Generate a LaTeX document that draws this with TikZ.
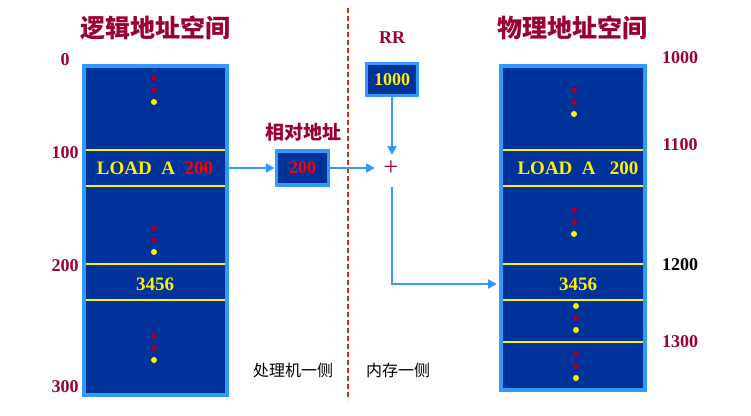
\documentclass[tikz,border=0pt]{standalone}
\usepackage{fontspec}
\setmainfont{Liberation Serif}
\newfontfamily\cjk{Noto Sans CJK SC}
\usetikzlibrary{arrows.meta,positioning}
\definecolor{memblue}{HTML}{003399}
\definecolor{edgeblue}{HTML}{3399FF}
\definecolor{darkred}{HTML}{990033}
\definecolor{dashred}{HTML}{CC3300}
\tikzset{
  cell/.style={draw=edgeblue,line width=3.5pt,fill=memblue},
  sep/.style={draw=yellow,line width=2.5pt},
  addr/.style={font=\fontsize{18}{18}\selectfont\bfseries,text=darkred},
  title/.style={font=\cjk\fontsize{25}{25}\selectfont\bfseries,text=darkred},
  word/.style={font=\fontsize{19}{19}\selectfont\bfseries,text=yellow},
  side/.style={font=\cjk\fontsize{16}{16}\selectfont},
  link/.style={draw=edgeblue,line width=2.5pt,-{Triangle[length=9pt,width=9pt]}},
  rdot/.style={circle,fill=darkred,inner sep=0pt,minimum size=6pt},
  ydot/.style={circle,fill=yellow,inner sep=0pt,minimum size=6pt}
}
\newcommand{\dotcol}[3]{%
  \node[rdot] at (#1,#2) {};
  \node[rdot] at (#1,#2+12) {};
  \node[#3] at (#1,#2+24) {};}
\begin{document}
\begin{tikzpicture}[x=1pt,y=-1pt]
  \useasboundingbox (0,0) rectangle (751,415);
  % logical space
  \node[title] (ltitle) at (155,28) {逻辑地址空间};
  \draw[cell] (84,66) rectangle (227,395);
  \foreach \y in {150,186,264,300} \draw[sep] (86,\y) -- (225,\y);
  \node[word] (load) at (155,168) {LOAD\ \ A\ \ \textcolor{red}{200}};
  \node[word] (lval) at (155,284) {3456};
  \dotcol{154}{78}{ydot}
  \dotcol{154}{228}{ydot}
  \dotcol{154}{336}{ydot}
  \foreach \y/\t in {60/0,153/100,266/200,387/300}
    \node[addr] at (65,\y) {\t};
  % relative address
  \node[font=\cjk\fontsize{19}{19}\selectfont\bfseries,text=darkred] (rtitle) at (303,132) {相对地址};
  \node[cell,minimum width=52pt,minimum height=34pt,font=\fontsize{18}{18}\selectfont\bfseries,text=red] (rel) at (302.5,168) {200};
  % divider
  \draw[dashred,line width=1.5pt,dash pattern=on 5pt off 3pt] (348,8) -- (348,400);
  % relocation register
  \node[font=\fontsize{18}{18}\selectfont\bfseries,text=darkred] (rr) at (392,38) {RR};
  \node[cell,minimum width=51pt,minimum height=32pt,font=\fontsize{18}{18}\selectfont\bfseries,text=yellow] (base) at (392,79.5) {1000};
  \node[font=\fontsize{26}{26}\selectfont,text=darkred,inner sep=1pt] (plus) at (391,168) {+};
  % physical space
  \node[title] (ptitle) at (572,28) {物理地址空间};
  \draw[cell] (501,66) rectangle (645,390);
  \foreach \y in {150,186,264,300,342} \draw[sep] (503,\y) -- (643,\y);
  \node[word] (pload) at (578,168) {LOAD\ \ A\ \ \ 200};
  \node[word] (pval) at (578,284) {3456};
  \dotcol{574}{90}{ydot}
  \dotcol{574}{210}{ydot}
  \node[ydot] at (576,306) {}; \node[rdot] at (576,318) {}; \node[ydot] at (576,330) {};
  \dotcol{576}{354}{ydot}
  \node[addr] at (680,58) {1000};
  \node[addr] at (680,145) {1100};
  \node[addr,text=black] at (680,265) {1200};
  \node[addr] at (680,342) {1300};
  % connectors
  \coordinate (src) at (229,168);
  \coordinate (sum) at (375,168);
  \coordinate (plusin) at (392,155);
  \coordinate (plusout) at (392,187);
  \coordinate (hit) at (497,284);
  \draw[link] (src) -- (rel.west);
  \draw[link] (rel.east) -- (sum);
  \draw[link] (base.south) -- (plusin);
  \draw[link] (plusout) |- (hit);
  % sides
  \node[side] (cpu) at (293,370) {处理机一侧};
  \node[side] (mem) at (398,370) {内存一侧};
\end{tikzpicture}
\end{document}
